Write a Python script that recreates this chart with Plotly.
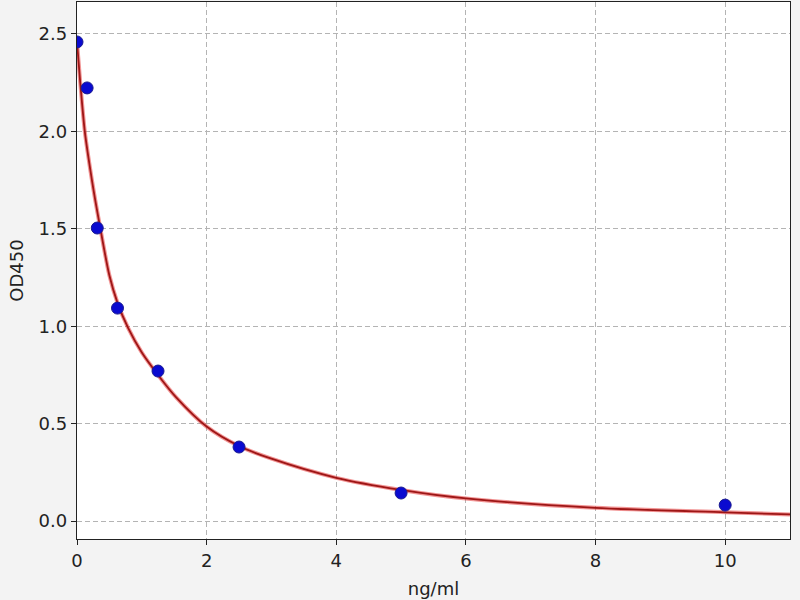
import plotly.graph_objects as go

# standard concentrations (ng/ml) and measured OD450
conc = [0, 0.156, 0.3125, 0.625, 1.25, 2.5, 5, 10]
od450 = [2.459, 2.223, 1.504, 1.093, 0.770, 0.380, 0.144, 0.082]

# fitted curve
curve_x = [0, 0.05, 0.12, 0.17, 0.23, 0.28, 0.35, 0.5, 0.625, 0.79, 1.0, 1.25,
           1.53, 2.0, 2.5, 3.0, 4.0, 5.0, 6.0, 8.0, 10.0, 11.0]
curve_y = [2.46, 2.25, 2.0, 1.88, 1.75, 1.65, 1.52, 1.26, 1.12, 0.99, 0.865, 0.75,
           0.635, 0.485, 0.385, 0.32, 0.222, 0.16, 0.116, 0.068, 0.045, 0.034]

x_ticks = [0, 2, 4, 6, 8, 10]
y_ticks = [0.0, 0.5, 1.0, 1.5, 2.0, 2.5]

font = dict(family='DejaVu Sans', size=18, color='#222222')

fig = go.Figure()

# soft halo under the fit line
fig.add_trace(go.Scatter(x=curve_x, y=curve_y, mode='lines',
                         line=dict(color='rgba(230,60,60,0.55)', width=4, shape='spline', smoothing=0.8),
                         hoverinfo='skip', showlegend=False))
fig.add_trace(go.Scatter(x=curve_x, y=curve_y, mode='lines',
                         line=dict(color='#9e1616', width=1.8, shape='spline', smoothing=0.8),
                         showlegend=False))
fig.add_trace(go.Scatter(x=conc, y=od450, mode='markers',
                         marker=dict(color='#0a0ad0', size=12, line=dict(color='#1a1a90', width=1)),
                         showlegend=False))

axis_common = dict(
    showline=True, linecolor='#222222', linewidth=1.3, mirror=True,
    ticks='outside', ticklen=5, tickwidth=1.3, tickcolor='#222222',
    showgrid=True, gridcolor='#b4b4b4', griddash='5px,3px', gridwidth=1,
    zeroline=False, automargin=False,
    tickfont=font,
)

fig.update_layout(
    width=800, height=600,
    paper_bgcolor='#f3f3f3', plot_bgcolor='white',
    margin=dict(l=77, r=10, t=2, b=61),
    xaxis=dict(range=[0, 11], tickvals=x_ticks,
               title=dict(text='ng/ml', font=font, standoff=12),
               **axis_common),
    yaxis=dict(range=[-0.092, 2.664], tickvals=y_ticks, tickformat='.1f',
               title=dict(text='OD450', font=font, standoff=10),
               **axis_common),
)

# page body has a default 8px margin; drop it so the figure sits at the corner
fig.write_html("out.html", config={'displayModeBar': False},
               post_script="document.body.style.margin='0';")
